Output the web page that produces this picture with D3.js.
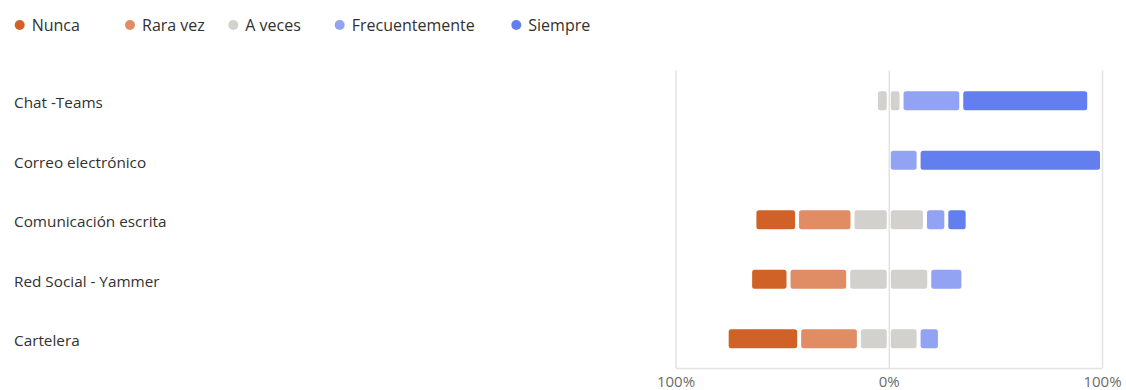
<!DOCTYPE html>
<html>
<head>
<meta charset="utf-8">
<script src="https://cdn.jsdelivr.net/npm/d3@7"></script>
<style>
  html, body { margin: 0; padding: 0; background: #fff; }
  svg { display: block; }
</style>
</head>
<body>
<svg id="chart" width="1126" height="390"></svg>
<script>
const categories = ["Chat -Teams", "Correo electrónico", "Comunicación escrita", "Red Social - Yammer", "Cartelera"];
const seriesNames = ["Nunca", "Rara vez", "A veces", "Frecuentemente", "Siempre"];
const seriesColors = ["#d06228", "#e08d65", "#d2d1ce", "#93a3f3", "#637eef"];
// percentage of answers per category
const nunca          = [0, 0, 20, 18, 34];
const raraVez        = [0, 0, 26, 28, 28];
const aVeces         = [12, 0, 34, 38, 28];
const frecuentemente = [28, 14, 10, 16, 10];
const siempre        = [60, 86, 10, 0, 0];
const tickValues = [-100, 0, 100];
const tickLabels = ["100%", "0%", "100%"];

const svg = d3.select("#chart");
const FONT = "'Open Sans', sans-serif";

const x = d3.scaleLinear().domain([-100, 100]).range([675.5, 1102]);
const y = d3.scaleBand().domain(categories).range([71, 368.5]);
const plotTop = 70.5, plotBottom = 368;
const barH = 19;

// axis + vertical grid lines
const axis = d3.axisBottom(x)
  .tickValues(tickValues)
  .tickFormat((d, i) => tickLabels[i])
  .tickSize(-(plotBottom - plotTop))
  .tickSizeOuter(0)
  .tickPadding(8);
const gAxis = svg.append("g").attr("transform", `translate(0,${plotBottom})`).call(axis);
gAxis.select(".domain").attr("stroke", "#e3e3e3").attr("stroke-width", 1.5);
gAxis.selectAll(".tick line").attr("stroke", "#e3e3e3").attr("stroke-width", 1.5);
gAxis.selectAll(".tick text")
  .attr("fill", "#6b6b6b")
  .style("font-family", FONT)
  .style("font-size", "15px");

// build segments: diverging around 0, "A veces" split in half
const rows = categories.map((c, i) => {
  const vals = [nunca[i], raraVez[i], aVeces[i], frecuentemente[i], siempre[i]];
  let start = -(vals[0] + vals[1] + vals[2] / 2);
  const segs = [];
  vals.forEach((v, k) => {
    if (v <= 0) { return; }
    if (k === 2) {
      segs.push({ k, x0: start, x1: start + v / 2 });
      segs.push({ k, x0: start + v / 2, x1: start + v });
    } else {
      segs.push({ k, x0: start, x1: start + v });
    }
    start += v;
  });
  return { c, segs };
});

const gap = 2;
svg.append("g").selectAll("g").data(rows).join("g")
  .attr("transform", d => `translate(0,${y(d.c) + y.bandwidth() / 2 - barH / 2})`)
  .selectAll("rect").data(d => d.segs).join("rect")
  .attr("x", d => x(d.x0) + gap)
  .attr("width", d => Math.max(0, x(d.x1) - x(d.x0) - 2 * gap))
  .attr("height", barH)
  .attr("rx", 2.5)
  .attr("fill", d => seriesColors[d.k]);

// category labels
svg.append("g").selectAll("text").data(categories).join("text")
  .attr("x", 14)
  .attr("y", d => y(d) + y.bandwidth() / 2 + 7.3)
  .attr("fill", "#323130")
  .style("font-family", FONT)
  .style("font-size", "15.3px")
  .text(d => d);

// legend
const legendX = [19.7, 130, 233.3, 339.7, 516.3];
const lg = svg.append("g").selectAll("g").data(seriesNames).join("g")
  .attr("transform", (d, i) => `translate(${legendX[i]},25)`);
lg.append("circle").attr("r", 5).attr("fill", (d, i) => seriesColors[i]);
lg.append("text").attr("x", 12).attr("y", 6)
  .attr("fill", "#323130")
  .style("font-family", FONT)
  .style("font-size", "16px")
  .text(d => d);
</script>
</body>
</html>
